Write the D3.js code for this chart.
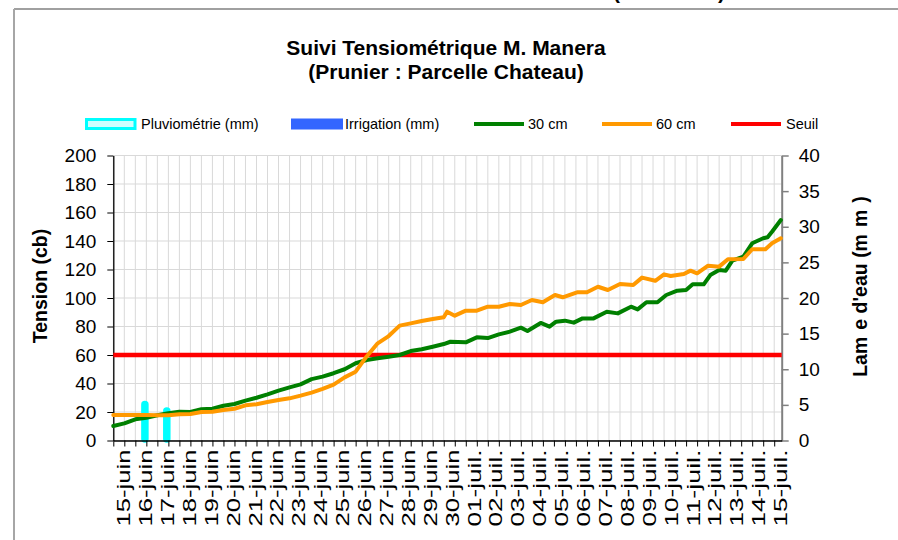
<!DOCTYPE html>
<html><head><meta charset="utf-8">
<script src="https://cdn.jsdelivr.net/npm/d3@7"></script>
<style>
body{margin:0;background:#fff}
svg{display:block;font-family:Arial,"Liberation Sans",sans-serif}
</style>
</head><body>
<svg id="chart" width="898" height="540"></svg>
<script>
// ---------- DATA ----------
const dateLabels = ["15-juin","16-juin","17-juin","18-juin","19-juin","20-juin","21-juin","22-juin","23-juin","24-juin","25-juin","26-juin","27-juin","28-juin","29-juin","30-juin","01-juil.","02-juil.","03-juil.","04-juil.","05-juil.","06-juil.","07-juil.","08-juil.","09-juil.","10-juil.","11-juil.","12-juil.","13-juil.","14-juil.","15-juil."];
const leftTicks = [0,20,40,60,80,100,120,140,160,180,200];
const rightTicks = [0,5,10,15,20,25,30,35,40];

// 30 cm probe: time in days since start of record, tension (cb)
const days30 = [0,0.5,1,1.5,2,2.5,3,3.5,4,4.5,5,5.5,6,6.5,7,7.5,8,8.5,9,9.5,10,10.5,11,11.5,12,12.5,13,13.5,14,14.5,15,15.3,16,16.5,17,17.5,18,18.5,18.8,19.4,19.8,20.1,20.5,20.9,21.3,21.8,22.4,22.9,23.5,23.8,24.2,24.7,25.1,25.6,26,26.3,26.8,27.1,27.5,27.8,28.1,28.6,29,29.5,29.7,29.9,30.3];
const tension30 = [10.2,12,14.9,16,17.7,19.1,20.2,20,21.9,22.3,24.4,25.6,28,30,32.4,35,37.3,39.4,43.1,44.8,47.2,50,54.2,56.5,57.7,58.8,60,62.8,64,65.8,67.7,69.3,68.9,72.4,71.9,74.5,76.4,79.2,76.8,82.5,79.9,83.4,84.1,82.7,85.7,85.7,90.4,89.2,93.9,92,97,97,102.1,105.1,105.6,109.6,109.6,116.1,119.6,119.2,126.2,129,138.4,141.9,142.6,146.5,154.7];

// 60 cm probe
const days60 = [0,1.5,2,2.5,3,3.5,4,4.5,5,5.5,6,6.5,7,7.5,8,8.5,9,9.5,10,10.5,11,11.5,12,12.5,13,13.5,14,14.5,15,15.15,15.5,16,16.5,17,17.5,18,18.5,19,19.5,19.8,20.05,20.4,21.05,21.5,22,22.45,23,23.6,24,24.6,25,25.3,25.9,26.2,26.5,27,27.5,27.9,28.6,29,29.6,29.9,30.3];
const tension60 = [17.9,17.9,17.7,17.7,18.4,18.6,20,20.2,21.4,22.3,24.7,25.4,27,28.4,29.6,31.5,33.6,36.2,39.2,44.3,48.3,59,68.2,73.3,80.6,82.2,83.9,85.3,86.5,90.4,87.6,91.1,91.1,93.9,93.9,95.8,95.1,98.6,97,99.8,102.1,100.5,104,104,107.9,105.6,109.8,109.1,114.3,112.1,116.6,115.4,116.8,119.2,117.3,122.7,122,127.2,127.4,134.2,134.2,138.4,141.9];

// rain and irrigation (mm)
const pluieDates = ["16-juin","17-juin"];
const pluieMm = [5.4, 4.5];
const irrigationDates = [];
const irrigationMm = [];

const seuil = 60;
const recordDays = 30.34;   // length of x axis in days
const gridStep = 0.5;       // vertical grid every half day

// ---------- SCALES ----------
const svg = d3.select("#chart");
const L = 113.3, R = 781.7, T = 155.5, B = 440.5;

const x = d3.scaleLinear().domain([0, recordDays]).range([L, R]);
const xLab = d3.scalePoint().domain(dateLabels).range([123, 780]);
const y = d3.scaleLinear().domain([0, 200]).range([B, T]);
const y2 = d3.scaleLinear().domain([0, 40]).range([B, T]);

// ---------- FRAME ----------
svg.append("line").attr("x1", 14).attr("x2", 898).attr("y1", 9).attr("y2", 9)
  .attr("stroke", "#808080").attr("stroke-width", 1.5);
svg.append("line").attr("x1", 14).attr("x2", 14).attr("y1", 9).attr("y2", 540)
  .attr("stroke", "#a6a6a6").attr("stroke-width", 2);
svg.append("text").attr("x", 613).attr("y", -1).attr("font-size", 21).attr("font-weight", "bold").text("(");
svg.append("text").attr("x", 718).attr("y", -1).attr("font-size", 21).attr("font-weight", "bold").text(")");

// ---------- TITLE ----------
const title = svg.append("text").attr("text-anchor", "middle").attr("font-weight", "bold").attr("font-size", 21).attr("fill", "#000");
title.append("tspan").attr("x", 446).attr("y", 54.5).text("Suivi Tensiométrique M. Manera");
title.append("tspan").attr("x", 446).attr("y", 79).text("(Prunier : Parcelle Chateau)");

// ---------- GRID ----------
const grid = svg.append("g");
grid.selectAll("line.h").data(leftTicks).join("line")
  .attr("x1", L).attr("x2", R).attr("y1", d => y(d)).attr("y2", d => y(d))
  .attr("stroke", "#d9d9d9").attr("stroke-width", 1);
grid.selectAll("line.v").data(d3.range(0, 30 + 1e-6, gridStep)).join("line")
  .attr("x1", d => x(d)).attr("x2", d => x(d)).attr("y1", T).attr("y2", B)
  .attr("stroke", "#d9d9d9").attr("stroke-width", 1);

// ---------- BARS ----------
svg.append("g").selectAll("rect").data(pluieDates.map((d, i) => [d, pluieMm[i]])).join("rect")
  .attr("x", d => xLab(d[0]) - 2.5).attr("width", 5)
  .attr("y", d => y2(d[1])).attr("height", d => y2(0) - y2(d[1]) + 1)
  .attr("rx", 2.5)
  .attr("fill", "#00ffff").attr("stroke", "#00ffff").attr("stroke-width", 2.5);
svg.append("g").selectAll("rect").data(irrigationDates.map((d, i) => [d, irrigationMm[i]])).join("rect")
  .attr("x", d => xLab(d[0]) - 2.5).attr("width", 5)
  .attr("y", d => y2(d[1])).attr("height", d => y2(0) - y2(d[1]))
  .attr("fill", "#3366ff");

// ---------- AXES ----------
const axL = svg.append("g").attr("transform", `translate(${L},0)`)
  .call(d3.axisLeft(y).tickValues(leftTicks).tickSize(6).tickSizeOuter(0).tickPadding(11));
axL.select(".domain").attr("stroke", "#000").attr("stroke-width", 1.3);
axL.selectAll(".tick line").attr("stroke", "#000");
axL.selectAll("text").attr("font-size", 19).attr("font-family", "Arial, 'Liberation Sans', sans-serif").attr("fill", "#000");

const axR = svg.append("g").attr("transform", `translate(${R},0)`)
  .call(d3.axisRight(y2).tickValues(rightTicks).tickSize(7).tickSizeOuter(0).tickPadding(10));
axR.select(".domain").attr("stroke", "#808080").attr("stroke-width", 2);
axR.selectAll(".tick line").attr("stroke", "#808080").attr("stroke-width", 1.5);
axR.selectAll("text").attr("font-size", 19).attr("font-family", "Arial, 'Liberation Sans', sans-serif").attr("fill", "#000");

const axB = svg.append("g").attr("transform", `translate(0,${B})`)
  .call(d3.axisBottom(x).tickValues(d3.range(0, 30 + 1e-6, gridStep)).tickSize(6).tickSizeOuter(0).tickFormat(""));
axB.select(".domain").attr("stroke", "#000").attr("stroke-width", 1.3);
axB.selectAll(".tick line").attr("stroke", "#000");

const axLab = svg.append("g").attr("transform", `translate(0,${B})`)
  .call(d3.axisBottom(xLab).tickSize(0));
axLab.select(".domain").remove();
axLab.selectAll("text")
  .attr("font-size", 19).attr("font-family", "Arial, 'Liberation Sans', sans-serif").attr("fill", "#000")
  .attr("transform", "rotate(-90)").attr("text-anchor", "end")
  .attr("x", -9).attr("y", 0).attr("dy", "0.35em")
  .attr("textLength", 77).attr("lengthAdjust", "spacingAndGlyphs");

// ---------- LINES ----------
const line = d3.line().x(d => x(d[0])).y(d => y(d[1]));
svg.append("line").attr("x1", L).attr("x2", R).attr("y1", y(seuil)).attr("y2", y(seuil))
  .attr("stroke", "#ff0000").attr("stroke-width", 4.5);
svg.append("path").datum(days30.map((d, i) => [d, tension30[i]])).attr("d", line)
  .attr("fill", "none").attr("stroke", "#008000").attr("stroke-width", 4)
  .attr("stroke-linejoin", "round").attr("stroke-linecap", "round");
svg.append("path").datum(days60.map((d, i) => [d, tension60[i]])).attr("d", line)
  .attr("fill", "none").attr("stroke", "#ff9900").attr("stroke-width", 4)
  .attr("stroke-linejoin", "round").attr("stroke-linecap", "round");

// ---------- AXIS TITLES ----------
svg.append("text").attr("transform", "translate(46.5,286) rotate(-90)")
  .attr("text-anchor", "middle").attr("font-weight", "bold").attr("font-size", 19.5)
  .text("Tension (cb)");
const rt = svg.append("text").attr("transform", "translate(866.5,286.5) rotate(-90)")
  .attr("text-anchor", "middle").attr("font-weight", "bold").attr("font-size", 19.5);
rt.append("tspan").text("Lam");
rt.append("tspan").attr("dx", 7).text("e d'eau (m");
rt.append("tspan").attr("dx", 7).text("m");
rt.append("tspan").attr("dx", 7).text(")");

// ---------- LEGEND ----------
const lg = svg.append("g").attr("font-size", 14.5);
lg.append("rect").attr("x", 86.5).attr("y", 119.5).attr("width", 48.5).attr("height", 9)
  .attr("fill", "#ccffff").attr("stroke", "#00ffff").attr("stroke-width", 3);
lg.append("text").attr("x", 141).attr("y", 129).text("Pluviométrie (mm)");
lg.append("rect").attr("x", 291).attr("y", 118.5).attr("width", 52).attr("height", 11).attr("fill", "#3366ff");
lg.append("text").attr("x", 345).attr("y", 129).text("Irrigation (mm)");
const legLines = [["#008000", 474, 528, "30 cm"], ["#ff9900", 602, 656, "60 cm"], ["#ff0000", 731, 786, "Seuil"]];
legLines.forEach(([c, x0, tx, label]) => {
  lg.append("line").attr("x1", x0).attr("x2", x0 + 50).attr("y1", 124).attr("y2", 124)
    .attr("stroke", c).attr("stroke-width", 4);
  lg.append("text").attr("x", tx).attr("y", 129).text(label);
});
</script>
</body></html>
